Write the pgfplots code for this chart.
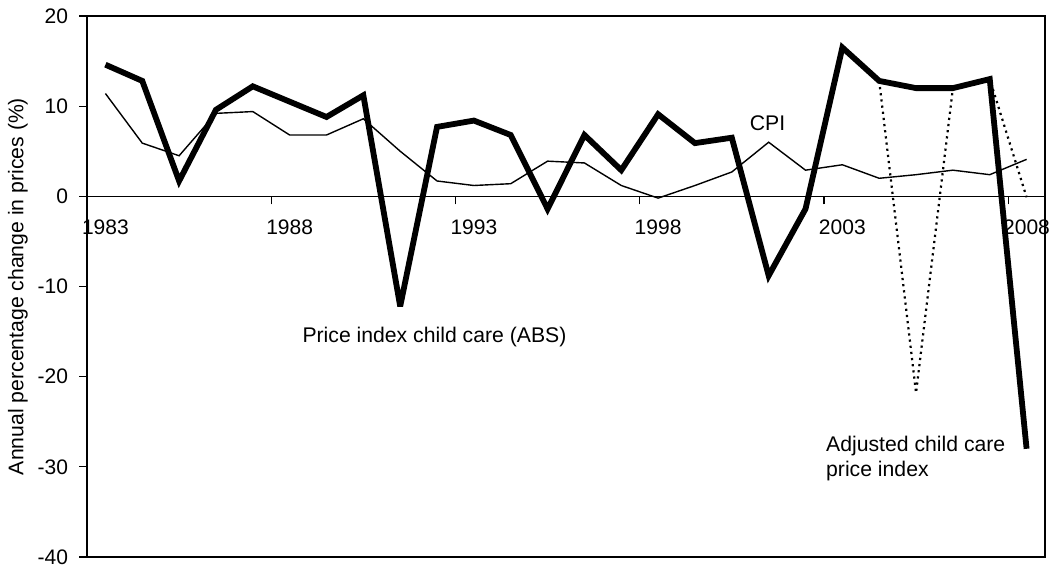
\documentclass[border=0pt]{standalone}
\usepackage{fontspec}
\setmainfont{Liberation Sans}
\usepackage{pgfplots}
\pgfplotsset{compat=1.18}
\begin{document}
\begin{tikzpicture}
\begin{axis}[
  name=ax,
  scale only axis,
  width=479pt, height=270.5pt,
  xmin=1982.5, xmax=2008.5,
  ymin=-40, ymax=20,
  axis x line=middle,
  axis y line=left,
  axis line style={-, line width=0.8pt},
  tick align=outside,
  major tick length=4pt,
  tick style={black, line width=0.6pt},
  hide obscured x ticks=false,
  hide obscured y ticks=false,
  xtick={1982.5,1987.5,1992.5,1997.5,2002.5,2007.5},
  xticklabels={1983,1988,1993,1998,2003,2008},
  ytick={-40,-30,-20,-10,0,10,20},
  /pgf/number format/assume math mode=true,
  tick label style={font=\fontsize{10.5}{12}\selectfont},
  xticklabel style={font=\fontsize{10.5}{12}\selectfont, xshift=9.2pt, anchor=north, yshift=-4pt},
  yticklabel style={font=\fontsize{10.5}{12}\selectfont, xshift=-2pt},
  clip=false,
]
\draw[line width=0.8pt] (rel axis cs:0,0) rectangle (rel axis cs:1,1);
% CPI
\addplot[black, line width=0.7pt, no marks] coordinates {
(1983,11.4) (1984,5.9) (1985,4.5) (1986,9.2) (1987,9.4) (1988,6.8) (1989,6.8)
(1990,8.6) (1991,5.0) (1992,1.7) (1993,1.2) (1994,1.4) (1995,3.9) (1996,3.7)
(1997,1.2) (1998,-0.2) (1999,1.2) (2000,2.7) (2001,6.0) (2002,2.9) (2003,3.5)
(2004,2.0) (2005,2.4) (2006,2.9) (2007,2.4) (2008,4.1)};
% Adjusted (dotted)
\addplot[black, line width=1.1pt, dotted, no marks] coordinates {
(2004,12.8) (2005,-21.8) (2006,12.0) (2007,13.0) (2008,-0.1)};
% Price index child care (ABS)
\addplot[black, line width=2.9pt, no marks, line join=miter, miter limit=3] coordinates {
(1983,14.6) (1984,12.8) (1985,1.7) (1986,9.6) (1987,12.2) (1988,10.5) (1989,8.8)
(1990,11.2) (1991,-12.2) (1992,7.7) (1993,8.4) (1994,6.8) (1995,-1.4) (1996,6.8)
(1997,2.9) (1998,9.1) (1999,5.9) (2000,6.5) (2001,-8.8) (2002,-1.4) (2003,16.5)
(2004,12.8) (2005,12.0) (2006,12.0) (2007,13.0) (2008,-28.0)};
\node[font=\fontsize{10.6}{12}\selectfont] at (axis cs:1991.93,-15.6) {Price index child care (ABS)};
\node[font=\fontsize{10.6}{12}\selectfont] at (axis cs:2000.97,8.1) {CPI};
\node[font=\fontsize{10.6}{12.6}\selectfont, anchor=west, align=left, inner sep=0pt] at (axis cs:2002.55,-29.1) {Adjusted child care\\price index};
\node[font=\fontsize{10.6}{12}\selectfont, rotate=90] at ([xshift=-34.5pt]rel axis cs:0,0.5) {Annual percentage change in prices (\%)};
\coordinate (bl) at (rel axis cs:0,0);
\coordinate (tr) at (rel axis cs:1,1);
\end{axis}
\pgfresetboundingbox
\path[use as bounding box] ([xshift=-43.5pt,yshift=-5pt]bl) rectangle ([xshift=3.5pt,yshift=8pt]tr);
\end{tikzpicture}
\end{document}
